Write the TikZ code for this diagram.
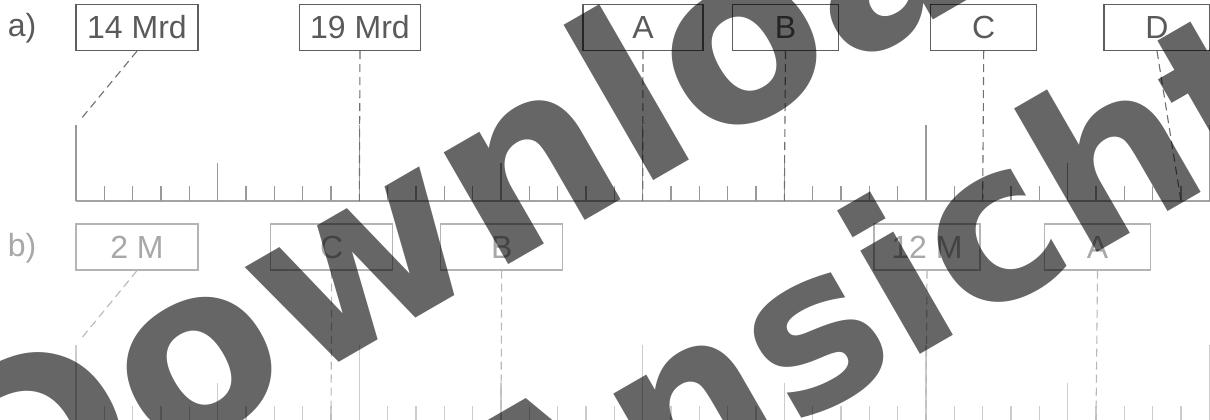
\documentclass[tikz,border=0pt]{standalone}
\usepackage{fontspec}
\setmainfont{Liberation Sans}
\newfontfamily\wmfont{DejaVu Sans}
\definecolor{txtA}{HTML}{5A5A5A}
\definecolor{boxA}{HTML}{5E5E5E}
\definecolor{tickA}{HTML}{999999}
\definecolor{axA}{HTML}{A3A3A3}
\definecolor{dashA}{HTML}{707070}
\definecolor{txtB}{HTML}{A8A8A8}
\definecolor{boxB}{HTML}{B4B4B4}
\definecolor{tickB}{HTML}{CCCCCC}
\definecolor{dashB}{HTML}{B8B8B8}
\begin{document}
\begin{tikzpicture}[x=1pt,y=-1pt,
  lbl/.style={inner sep=0pt, font=\fontsize{32}{32}\selectfont},
  boxa/.style={draw=boxA, text=txtA, line width=1.2pt, minimum height=46pt, inner sep=0pt, font=\fontsize{32}{32}\selectfont},
  boxb/.style={draw=boxB, text=txtB, line width=1.2pt, minimum height=46pt, inner sep=0pt, font=\fontsize{32}{32}\selectfont},
  wide/.style={minimum width=122pt},
  narrow/.style={minimum width=106pt},
  connA/.style={draw=dashA, line width=1.1pt, dash pattern=on 8pt off 5pt},
  connB/.style={draw=dashB, line width=1.1pt, dash pattern=on 8pt off 5pt},
  tickA/.style={draw=tickA, line width=1.4pt},
  tickB/.style={draw=tickB, line width=1.4pt},
  wm/.style={inner sep=0pt, text=black, text opacity=0.6, anchor=base west, rotate=30}
]
\useasboundingbox (0,0) rectangle (1210,420);
\clip (0,0) rectangle (1210,420);
\fill[white] (0,0) rectangle (1210,420);

% ---------- a) ----------
\node[lbl, text=txtA] (la) at (22,28) {a)};
\draw[draw=axA, line width=1.4pt] (76,201) coordinate (a0base) -- (1212,201) coordinate (aend);
\foreach \k in {0,...,40}{
  \pgfmathsetmacro\xx{76+\k*28.3333}
  \pgfmathsetmacro\hh{ifthenelse(mod(\k,10)==0,76,ifthenelse(mod(\k,5)==0,38,15))}
  \coordinate (a\k) at (\xx,201);
  \coordinate (at\k) at (\xx,201-\hh);
  \draw[tickA] (a\k) -- (at\k);
}
\node[boxa, wide]   (A1) at (137,27.5) {14 Mrd};
\node[boxa, minimum width=121pt] (A2) at (360,27.5) {19 Mrd};
\node[boxa, minimum width=120pt] (A3) at (643,27.5) {A};
\node[boxa, narrow] (A4) at (785.5,27.5) {B};
\node[boxa, narrow] (A5) at (983.7,27.5) {C};
\node[boxa, narrow] (A6) at (1157,27.5) {D};
\draw[connA, shorten >=7pt] (A1.south) -- (at0);
\draw[connA] (A2.south) -- (a10);
\draw[connA] (A3.south) -- (a20);
\draw[connA] (A4.south) -- (a25);
\draw[connA] (A5.south) -- (a32);
\draw[connA] (A6.south) -- (a39);

% ---------- b) ----------
\node[lbl, text=txtB] (lb) at (22,248) {b)};
\draw[draw=tickB, line width=1.4pt] (76,421) coordinate (b0base) -- (1212,421) coordinate (bend);
\foreach \k in {0,...,40}{
  \pgfmathsetmacro\xx{76+\k*28.3333}
  \pgfmathsetmacro\hh{ifthenelse(mod(\k,10)==0,76,ifthenelse(mod(\k,5)==0,38,15))}
  \coordinate (b\k) at (\xx,421);
  \coordinate (bt\k) at (\xx,421-\hh);
  \draw[tickB] (b\k) -- (bt\k);
}
\node[boxb, wide]   (B1) at (137,247) {2 M};
\node[boxb, wide]   (B2) at (331.7,247) {C};
\node[boxb, wide]   (B3) at (501.7,247) {B};
\node[boxb, narrow] (B4) at (927,247) {12 M};
\node[boxb, narrow] (B5) at (1097.5,247) {A};
\draw[connB, shorten >=7pt] (B1.south) -- (bt0);
\draw[connB] (B2.south) -- (b9);
\draw[connB] (B3.south) -- (b15);
\draw[connB] (B4.south) -- (b30);
\draw[connB] (B5.south) -- (b36);

% ---------- watermark ----------
\node[wm, font={\wmfont\bfseries\fontsize{236}{236}\selectfont}] (wm1) at (-7.9,562.7) {Download};
\node[wm, font={\wmfont\bfseries\fontsize{218}{218}\selectfont}] (wm2) at (511.3,590.6) {Ansicht};
\end{tikzpicture}
\end{document}
